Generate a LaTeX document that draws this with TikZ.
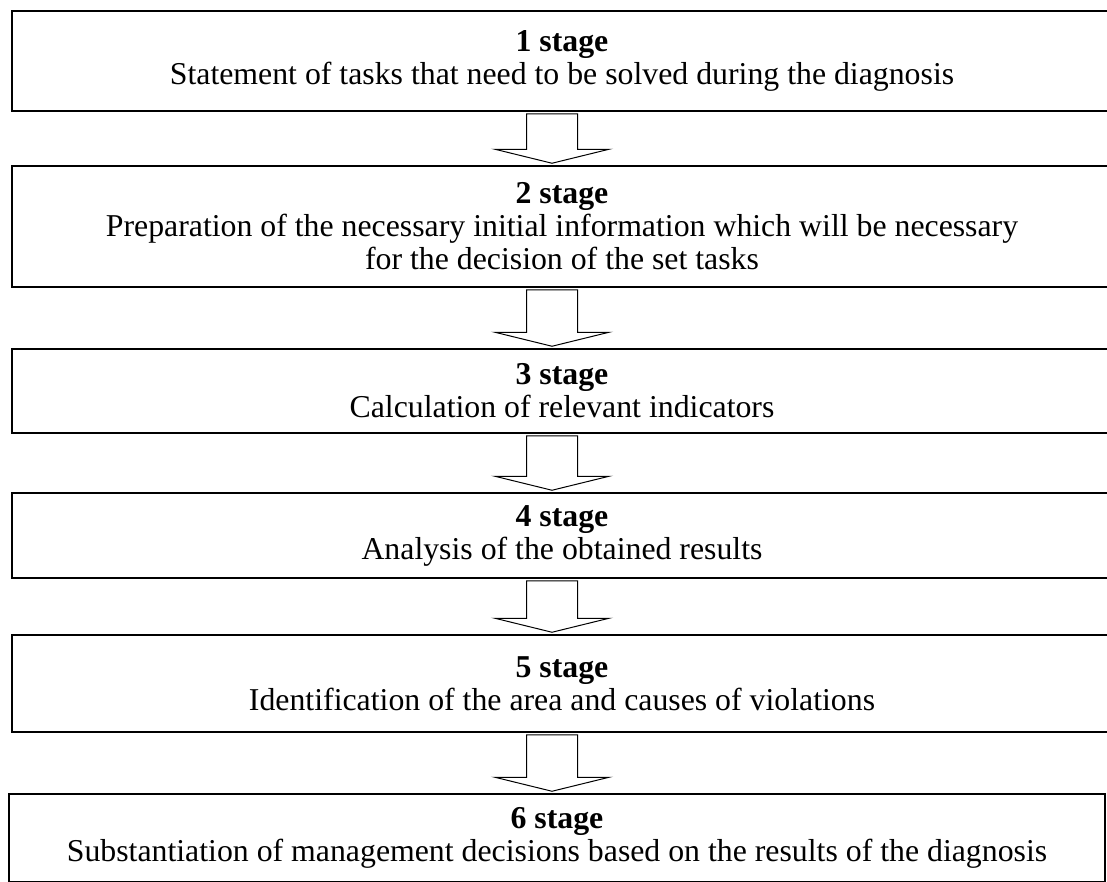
\documentclass[tikz,border=0pt]{standalone}
\usepackage{fontspec}
\setmainfont{Liberation Serif}
\usetikzlibrary{positioning,calc}

% hollow block arrow between two stages
\newcommand{\stagearrow}[2]{%
	\draw[stagearrow] let \p1=(axis |- #1.south), \p2=(axis |- #2.north) in
	(\x1-25.5pt,\y1-2pt) -- (\x1-25.5pt,\y2+16pt) -- (\x1-57pt,\y2+16pt)
	-- (\x1,\y2+2pt) -- (\x1+57pt,\y2+16pt) -- (\x1+25.5pt,\y2+16pt)
	-- (\x1+25.5pt,\y1-2pt) -- cycle;}

\begin{document}
\begin{tikzpicture}[x=1pt,y=-1pt,
	font=\fontsize{31.8}{33}\selectfont,
	stagebox/.style={draw,line width=1.5pt,align=center,
		minimum width=1100pt,inner sep=2pt},
	stagearrow/.style={draw,line width=1pt,line join=miter}]
		
		\useasboundingbox (0,0) rectangle (1107,881);
		\coordinate (axis) at (552,0);
		
		\node[stagebox,
		minimum height=100pt] (stage1) at (562,61)
		{\textbf{1 stage}\\ Statement of tasks that need to be solved during the diagnosis};
		
		\node[stagebox,
		below=53.5pt of stage1,
		minimum height=121pt] (stage2)
		{\textbf{2 stage}\\ Preparation of the necessary initial information which will be necessary\\ for the decision of the set tasks};
		
		\node[stagebox,
		below=60.5pt of stage2,
		minimum height=84pt] (stage3)
		{\textbf{3 stage}\\ Calculation of relevant indicators};
		
		\node[stagebox,
		below=58.5pt of stage3,
		minimum height=85pt] (stage4)
		{\textbf{4 stage}\\ Analysis of the obtained results};
		
		\node[stagebox,
		below=55.5pt of stage4,
		minimum height=97pt] (stage5)
		{\textbf{5 stage}\\ Identification of the area and causes of violations};
		
		\node[stagebox,
		below=60.5pt of stage5,
		xshift=-5pt,
		minimum width=1096pt,
		minimum height=88pt] (stage6)
		{\textbf{6 stage}\\ Substantiation of management decisions based on the results of the diagnosis};
		
		% Arrows
		\stagearrow{stage1}{stage2}
		\stagearrow{stage2}{stage3}
		\stagearrow{stage3}{stage4}
		\stagearrow{stage4}{stage5}
		\stagearrow{stage5}{stage6}
		
\end{tikzpicture}
\end{document}
